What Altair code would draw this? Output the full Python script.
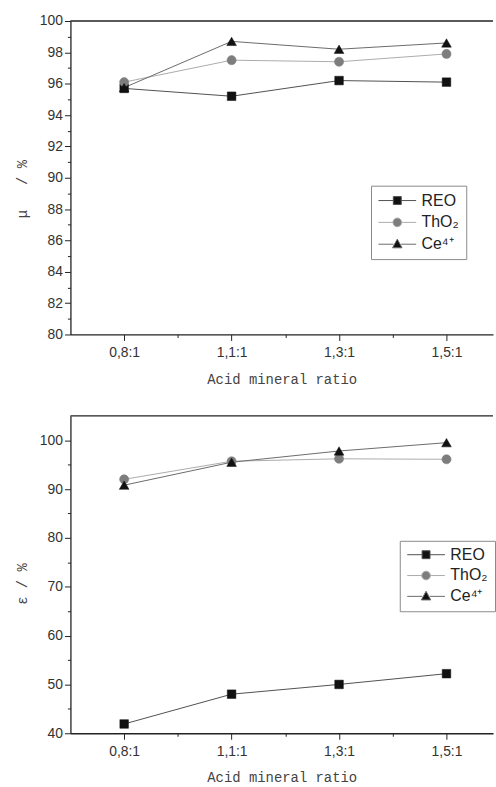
import altair as alt
import pandas as pd

# ---------------- data ----------------
categories = ["0,8:1", "1,1:1", "1,3:1", "1,5:1"]
series_names = ["REO", "ThO₂", "Ce⁴⁺"]

mu_reo = [95.7, 95.2, 96.2, 96.1]
mu_tho2 = [96.1, 97.5, 97.4, 97.9]
mu_ce = [95.75, 98.7, 98.2, 98.6]

eps_reo = [41.9, 48.0, 50.0, 52.2]
eps_tho2 = [92.0, 95.7, 96.2, 96.1]
eps_ce = [90.8, 95.5, 97.8, 99.5]

mu_ticks = list(range(80, 101, 1))
eps_ticks = list(range(40, 101, 5))

# ---------------- styles ----------------
line_colors = ["#505050", "#ababab", "#6a6a6a"]
marker_fills = ["#111111", "#7d7d7d", "#111111"]
marker_shapes = ["square", "circle", "triangle-up"]
marker_sizes = [75, 85, 95]
legend_paths = [
    "M-1,0H-0.21M0.21,0H1M-0.21,-0.21H0.21V0.21H-0.21Z",
    "M-1,0H-0.23M0.23,0H1M-0.23,0A0.23,0.23 0 1,1 0.23,0A0.23,0.23 0 1,1 -0.23,0Z",
    "M-1,0H-0.2M0.2,0H1M0,-0.27L0.25,0.19H-0.25Z",
]

W = 426
LABEL_FONT = "Liberation Sans"
TITLE_FONT = "Liberation Mono"


def frame(values_by_series):
    rows = []
    for s, vals in zip(series_names, values_by_series):
        for i, (c, v) in enumerate(zip(categories, vals)):
            rows.append({"series": s, "idx": i, "cat": c, "value": v})
    return pd.DataFrame(rows)


def panel(df, ytitle, ydomain, yvalues, major_mod, height, title_y, lx, ly, row_pad, clip_h):
    n = len(categories)
    cat_arr = "[" + ",".join("'" + c + "'" for c in categories) + "]"
    xvals = [i * 0.5 for i in range(2 * n - 1)]
    xaxis = alt.Axis(
        values=xvals,
        labelExpr=f"datum.value % 1 === 0 ? {cat_arr}[datum.value] : ''",
        tickSize={"condition": {"test": "datum.value % 1 === 0", "value": 6}, "value": 3},
        title="Acid mineral ratio",
        grid=False,
        labelPadding=5,
        titlePadding=13,
        labelFlush=False,
    )
    yaxis = alt.Axis(
        values=yvalues,
        labelExpr=f"datum.value % {major_mod} === 0 ? datum.value : ''",
        tickSize={"condition": {"test": f"datum.value % {major_mod} === 0", "value": 6}, "value": 3},
        title=ytitle,
        titleY=title_y,
        grid=False,
        labelPadding=2,
        titlePadding=10,
    )
    x = alt.X("idx:Q", scale=alt.Scale(domain=[-0.5, n - 1 + 0.433], nice=False, zero=False), axis=xaxis)
    y = alt.Y("value:Q", scale=alt.Scale(domain=ydomain, nice=False, zero=False), axis=yaxis)

    stroke_scale = alt.Scale(domain=series_names, range=line_colors)
    fill_scale = alt.Scale(domain=series_names, range=marker_fills)
    shape_scale = alt.Scale(domain=series_names, range=legend_paths)
    leg = alt.Legend(
        orient="none", legendX=lx, legendY=ly, title=None,
        symbolSize=1444, symbolStrokeWidth=1, clipHeight=clip_h,
        rowPadding=row_pad, padding=7, labelOffset=5,
        strokeColor="#8a8a8a", fillColor="white",
        labelFont=LABEL_FONT, labelFontSize=16, labelColor="#222222",
        symbolOpacity=1,
    )

    base = alt.Chart(df)
    legend_layer = base.mark_point(filled=True, opacity=0).encode(
        x=x, y=y,
        fill=alt.Fill("series:N", scale=fill_scale, legend=leg),
        stroke=alt.Stroke("series:N", scale=stroke_scale, legend=leg),
        shape=alt.Shape("series:N", scale=shape_scale, legend=leg),
    )
    lines = []
    markers = []
    for i, s in enumerate(series_names):
        sub = base.transform_filter(alt.datum.series == s)
        lines.append(sub.mark_line(strokeWidth=1, color=line_colors[i]).encode(x=x, y=y))
        markers.append(
            sub.mark_point(filled=True, shape=marker_shapes[i], size=marker_sizes[i], opacity=1,
                           fill=marker_fills[i], stroke=marker_fills[i], strokeWidth=0.5)
            .encode(x=x, y=y)
        )
    top_border = alt.Chart(pd.DataFrame({"a": [0]})).mark_rule(color="#222222", strokeWidth=1.3).encode(
        x=alt.value(0), x2=alt.value(W), y=alt.value(0)
    )
    return alt.layer(*lines, legend_layer, *markers, top_border).properties(width=W, height=height)


NB = "\u00a0"
top = panel(frame([mu_reo, mu_tho2, mu_ce]), "μ" + NB + NB + " / %", [80, 100], mu_ticks, 2,
            316, 169, 303, 166, 6, 16)
bottom = panel(frame([eps_reo, eps_tho2, eps_ce]), "ε / %", [40, 105], eps_ticks, 10,
               320, 169, 332, 126, 5, 14)

chart = (
    alt.vconcat(top, bottom, spacing=29)
    .resolve_scale(fill="independent", stroke="independent", shape="independent")
    .properties(padding={"left": 15, "top": 11, "right": 0, "bottom": 0}, background="white")
    .configure_view(stroke=None)
    .configure_axis(
        domainColor="#222222", domainWidth=1.3, tickColor="#222222", tickWidth=1,
        labelColor="#333333", labelFont=LABEL_FONT, labelFontSize=14,
        titleFont=TITLE_FONT, titleFontSize=14, titleColor="#444444", titleFontWeight="normal",
    )
)

chart.save("out.html", embed_options={"renderer": "svg", "actions": False})
